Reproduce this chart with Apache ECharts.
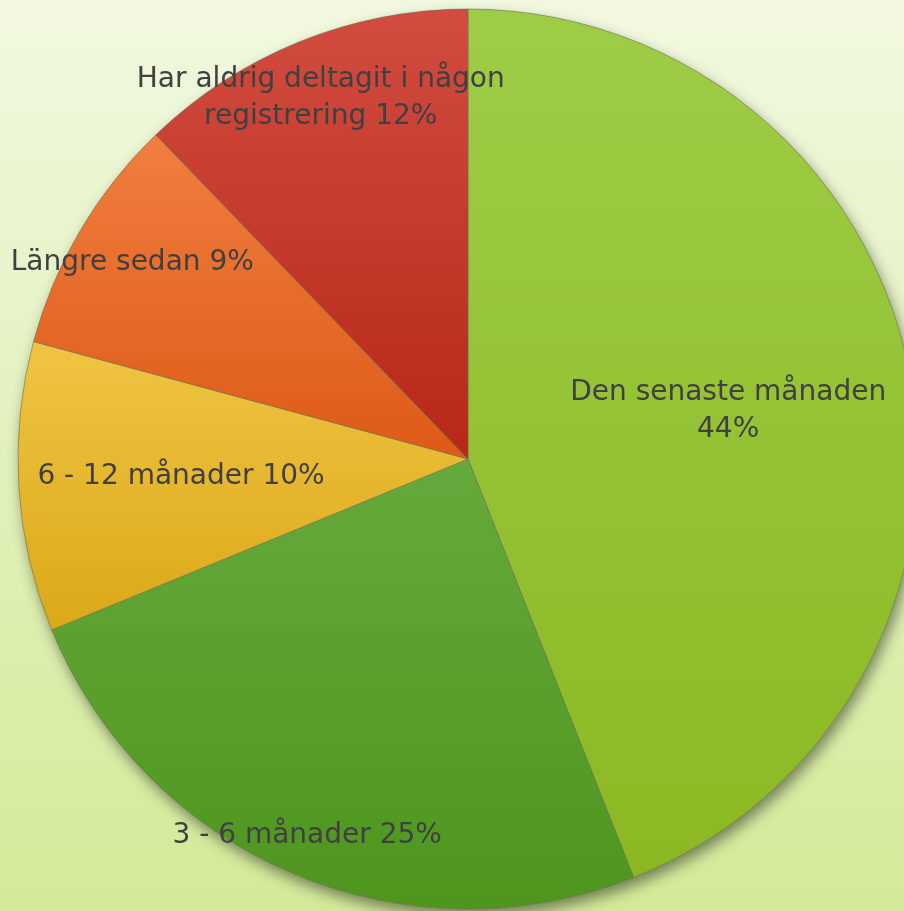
<!DOCTYPE html>
<html>
<head>
<meta charset="utf-8">
<script src="https://cdn.jsdelivr.net/npm/echarts@6/dist/echarts.min.js"></script>
<style>
html,body{margin:0;padding:0;width:904px;height:911px;overflow:hidden;}
#c{width:904px;height:911px;}
</style>
</head>
<body>
<div id="c"></div>
<script>
// Data
var categories = ['Den senaste månaden', '3 - 6 månader', '6 - 12 månader', 'Längre sedan', 'Har aldrig deltagit i någon registrering'];
var values = [44.0, 24.8, 10.4, 8.6, 12.2];
var labelTexts = ['Den senaste månaden\n{p}', '3 - 6 månader {p}', '6 - 12 månader {p}', 'Längre sedan {p}', 'Har aldrig deltagit i någon\nregistrering {p}'];

// Styles
var sliceColors = [
  ['#9ecc46', '#8bb822'],
  ['#66a93c', '#4e961e'],
  ['#f0c443', '#dba818'],
  ['#f07e3f', '#de5a16'],
  ['#d24c40', '#b72818']
];
var labelPolar = [[0.588, 10.5], [0.911, 246.9], [0.639, 183.6], [0.864, 149.7], [0.866, 112.2]];
var CX = 468, CY = 459, R = 450;

var chart = echarts.init(document.getElementById('c'));
var total = values.reduce(function(a, b){ return a + b; }, 0);

var data = values.map(function(v, i){
  return {
    name: categories[i],
    value: v,
    itemStyle: {
      color: new echarts.graphic.LinearGradient(0, 0, 0, 1, [
        {offset: 0, color: sliceColors[i][0]},
        {offset: 1, color: sliceColors[i][1]}
      ])
    }
  };
});

chart.setOption({
  backgroundColor: new echarts.graphic.LinearGradient(0, 0, 0, 1, [
    {offset: 0, color: '#f1f8e0'},
    {offset: 1, color: '#d2ea98'}
  ]),
  animation: false,
  series: [
    {
      type: 'pie',
      silent: true,
      center: [CX, CY],
      radius: R,
      label: {show: false},
      labelLine: {show: false},
      data: [{value: total, itemStyle: {color: '#8bb822', shadowBlur: 14, shadowOffsetX: 3, shadowOffsetY: 7, shadowColor: 'rgba(0,0,0,0.45)'}}]
    },
    {
      type: 'pie',
      center: [CX, CY],
      radius: R,
      startAngle: 90,
      clockwise: true,
      avoidLabelOverlap: false,
      itemStyle: {borderColor: 'rgba(110,110,90,0.55)', borderWidth: 1},
      label: {
        show: true,
        position: 'inside',
        color: '#404040',
        fontFamily: 'DejaVu Sans',
        fontSize: 28,
        lineHeight: 37,
        align: 'center',
        formatter: function(p){
          return labelTexts[p.dataIndex].replace('{p}', Math.round(p.percent) + '%');
        }
      },
      labelLayout: function(p){
        var lp = labelPolar[p.dataIndex];
        var a = lp[1] * Math.PI / 180;
        return {
          x: CX + lp[0] * R * Math.cos(a),
          y: CY - lp[0] * R * Math.sin(a),
          align: 'center',
          verticalAlign: 'middle'
        };
      },
      labelLine: {show: false},
      data: data
    }
  ]
});
</script>
</body>
</html>
